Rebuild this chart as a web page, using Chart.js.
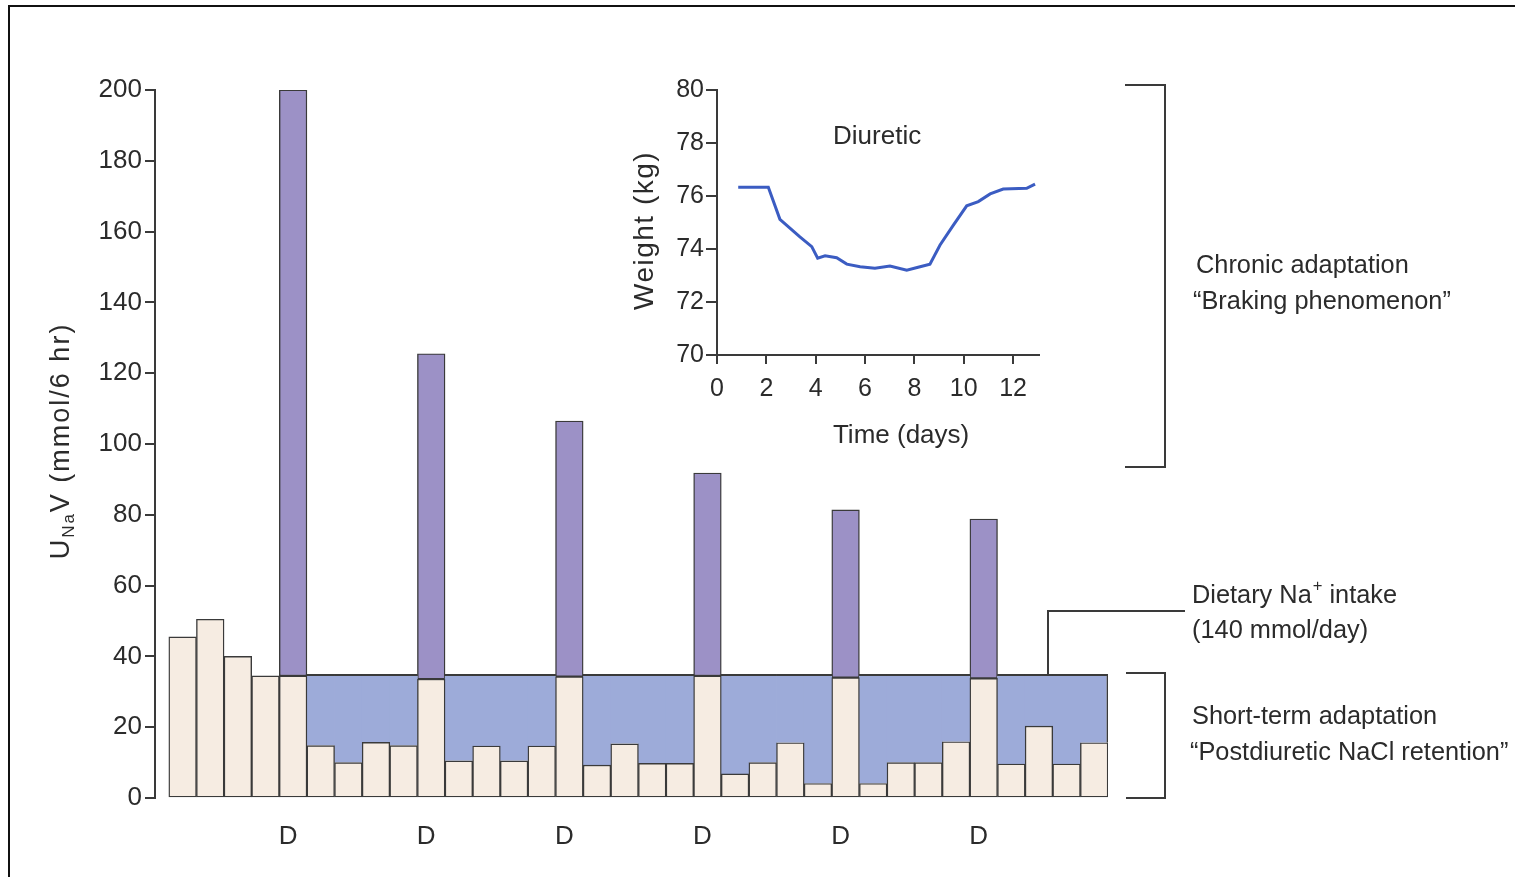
<!DOCTYPE html>
<html>
<head>
<meta charset="utf-8">
<script src="https://cdn.jsdelivr.net/npm/chart.js@4"></script>
<style>
  body { margin: 0; background: #fff; }
  .wrap { position: relative; width: 1515px; height: 877px; overflow: hidden; }
  .frame { position: absolute; left: 8px; top: 5px; width: 1600px; height: 1000px; border-left: 2px solid #111; border-top: 2px solid #111; }
  #main { position: absolute; left: 0; top: 0; }
  #inset { position: absolute; left: 600px; top: 60px; }
</style>
</head>
<body>
<div class="wrap">
  <div class="frame"></div>
  <canvas id="main" width="1515" height="877"></canvas>
  <canvas id="inset" width="450" height="420"></canvas>
</div>
<script>
// 6-hour collection periods
const periods = [1, 2, 3, 4, 5, 6, 7, 8, 9, 10, 11, 12, 13, 14, 15, 16, 17,
  18, 19, 20, 21, 22, 23, 24, 25, 26, 27, 28, 29, 30, 31, 32, 33, 34];
// urinary Na excretion below the intake line (mmol/6 hr)
const baseNa = [45.5, 50.5, 40, 34.5, 34.5, 14.8, 10, 15.7, 14.8, 33.6,
  10.5, 14.7, 10.5, 14.7, 34.3, 9.3, 15.3, 9.8, 9.8, 34.5,
  6.8, 10, 15.6, 4.1, 34, 4.1, 10, 10, 15.9, 33.8,
  9.6, 20.3, 9.6, 15.6];
// diuretic doses and peak excretion after each one
const doseDays = [5, 10, 15, 20, 25, 30];
const dosePeaks = [200, 125.5, 106.5, 91.8, 81.4, 78.8];
const intake = 35;
const yTicks = [0, 20, 40, 60, 80, 100, 120, 140, 160, 180, 200];

// inset: body weight
const weightDays = [0.86, 2.08, 2.55, 3.36, 3.84, 4.08, 4.38, 4.85, 5.26, 5.8, 6.4,
  7.01, 7.69, 8.23, 8.63, 9.04, 9.58, 10.12, 10.59, 11.07, 11.6, 12.55, 12.89];
const weightKg = [76.33, 76.33, 75.12, 74.46, 74.09, 73.65, 73.74, 73.67, 73.43, 73.33, 73.27,
  73.36, 73.2, 73.33, 73.43, 74.15, 74.9, 75.63, 75.79, 76.08, 76.26, 76.29, 76.45];
const weightTicks = [70, 72, 74, 76, 78, 80];
const dayTicks = [0, 2, 4, 6, 8, 10, 12];

const FONT = "'Liberation Sans', Arial, sans-serif";
const INK = '#2b2b2b';
const LINE = '#3a3a3a';

const blueData = baseNa.map((v, i) =>
  periods[i] > doseDays[0] && !doseDays.includes(periods[i]) ? intake - v : null);
const purpleData = periods.map((p, i) => {
  const k = doseDays.indexOf(p);
  return k >= 0 ? dosePeaks[k] - baseNa[i] : null;
});

function text(ctx, str, x, y, size, opts) {
  opts = opts || {};
  ctx.save();
  ctx.translate(x, y);
  if (opts.squeeze) ctx.scale(opts.squeeze, 1);
  ctx.font = size + 'px ' + FONT;
  ctx.fillStyle = INK;
  ctx.textBaseline = 'middle';
  ctx.textAlign = opts.align || 'left';
  if (opts.spacing) ctx.letterSpacing = opts.spacing;
  ctx.fillText(str, 0, 0);
  const w = ctx.measureText(str).width * (opts.squeeze || 1);
  ctx.restore();
  return w;
}

const annotations = {
  id: 'annotations',
  afterDraw(chart) {
    const ctx = chart.ctx;
    const y = chart.scales.y;
    const px = v => y.getPixelForValue(v);

    // y axis title with subscript
    ctx.save();
    ctx.translate(62, 441);
    ctx.rotate(-Math.PI / 2);
    ctx.fillStyle = INK;
    ctx.textBaseline = 'middle';
    ctx.letterSpacing = '2px';
    const parts = [['U', 27, 0], ['Na', 17, 7], ['V (mmol/6 hr)', 27, 0]];
    let total = 0;
    parts.forEach(p => { ctx.font = p[1] + 'px ' + FONT; total += ctx.measureText(p[0]).width; });
    let x = -total / 2;
    parts.forEach(p => {
      ctx.font = p[1] + 'px ' + FONT;
      ctx.fillText(p[0], x, p[2]);
      x += ctx.measureText(p[0]).width;
    });
    ctx.restore();

    // brackets and leader line
    ctx.save();
    ctx.strokeStyle = LINE;
    ctx.lineWidth = 2;
    ctx.beginPath();
    ctx.moveTo(1125, px(201.4)); ctx.lineTo(1165, px(201.4));
    ctx.lineTo(1165, px(93.5)); ctx.lineTo(1125, px(93.5));
    ctx.moveTo(1126, px(35.3)); ctx.lineTo(1165, px(35.3));
    ctx.lineTo(1165, px(0)); ctx.lineTo(1126, px(0));
    ctx.moveTo(1048, px(intake)); ctx.lineTo(1048, px(52.8)); ctx.lineTo(1185, px(52.8));
    ctx.stroke();
    ctx.restore();

    const sq = { squeeze: 0.975 };
    text(ctx, 'Chronic adaptation', 1196, 266, 26, sq);
    text(ctx, '\u201CBraking phenomenon\u201D', 1193, 302, 26, sq);
    const w = text(ctx, 'Dietary Na', 1192, 596, 26, sq);
    const pw = text(ctx, '+', 1192 + w + 1, 586, 17, sq);
    text(ctx, ' intake', 1192 + w + pw + 1, 596, 26, sq);
    text(ctx, '(140 mmol/day)', 1192, 631, 26, sq);
    text(ctx, 'Short-term adaptation', 1192, 717, 26, sq);
    text(ctx, '\u201CPostdiuretic NaCl retention\u201D', 1190, 753, 26, sq);
  }
};

new Chart(document.getElementById('main'), {
  type: 'bar',
  data: {
    labels: periods,
    datasets: [{
      data: baseNa,
      backgroundColor: '#F6ECE2',
      borderColor: LINE,
      borderWidth: 1.4,
      borderSkipped: false
    }, {
      data: blueData,
      backgroundColor: '#9DABD9',
      borderColor: LINE,
      barPercentage: 1.03,
      borderWidth: ctx => ({ top: 2, left: 0, bottom: 0, right: ctx.dataIndex === periods.length - 1 ? 2 : 0 }),
      borderSkipped: false
    }, {
      data: purpleData,
      backgroundColor: '#9C91C6',
      borderColor: LINE,
      borderWidth: 1.4,
      borderSkipped: false
    }]
  },
  options: {
    responsive: false,
    animation: false,
    barPercentage: 1,
    categoryPercentage: 1,
    layout: { padding: { top: 90, right: 407, bottom: 0, left: 0 } },
    plugins: { legend: { display: false }, tooltip: { enabled: false } },
    scales: {
      x: {
        type: 'linear',
        stacked: true,
        offset: false,
        min: 0,
        max: 34.5,
        grid: { display: false },
        border: { display: false },
        afterBuildTicks: s => { s.ticks = doseDays.map(v => ({ value: v })); },
        afterFit: s => { s.height = 79; },
        ticks: {
          callback: () => 'D',
          autoSkip: false,
          maxRotation: 0,
          padding: 15,
          labelOffset: -5,
          color: INK,
          font: { family: FONT, size: 26 }
        }
      },
      y: {
        stacked: true,
        min: 0,
        max: 200,
        afterBuildTicks: s => { s.ticks = yTicks.map(v => ({ value: v })); },
        afterFit: s => { s.width = 155; },
        grid: { drawOnChartArea: false, tickLength: 10, color: LINE, lineWidth: 2 },
        border: { color: LINE, width: 2 },
        ticks: { padding: 3, color: INK, font: { family: FONT, size: 26 } }
      }
    }
  },
  plugins: [annotations]
});

const insetText = {
  id: 'insetText',
  afterDraw(chart) {
    const ctx = chart.ctx;
    const x = chart.scales.x, y = chart.scales.y;
    text(ctx, 'Diuretic', x.getPixelForValue(6.49), y.getPixelForValue(78.23), 26, { align: 'center' });
    text(ctx, 'Time (days)', x.getPixelForValue(7.46), chart.chartArea.bottom + 81, 26, { align: 'center' });
    ctx.save();
    ctx.translate(45, y.getPixelForValue(74.7));
    ctx.rotate(-Math.PI / 2);
    text(ctx, 'Weight (kg)', 0, 0, 28, { align: 'center', spacing: '1.5px' });
    ctx.restore();
  }
};

new Chart(document.getElementById('inset'), {
  type: 'line',
  data: {
    datasets: [{
      data: weightDays.map((d, i) => ({ x: d, y: weightKg[i] })),
      borderColor: '#3B5CC2',
      borderWidth: 3,
      pointRadius: 0,
      tension: 0
    }]
  },
  options: {
    responsive: false,
    animation: false,
    layout: { padding: { top: 30, right: 11, bottom: 0, left: 0 } },
    plugins: { legend: { display: false }, tooltip: { enabled: false } },
    scales: {
      x: {
        type: 'linear',
        min: 0,
        max: 13.05,
        afterBuildTicks: s => { s.ticks = dayTicks.map(v => ({ value: v })); },
        afterFit: s => { s.height = 125; },
        grid: { drawOnChartArea: false, tickLength: 9, color: LINE, lineWidth: 2 },
        border: { color: LINE, width: 2 },
        ticks: { padding: 10, color: INK, font: { family: FONT, size: 25 } }
      },
      y: {
        min: 70,
        max: 80,
        afterBuildTicks: s => { s.ticks = weightTicks.map(v => ({ value: v })); },
        afterFit: s => { s.width = 117; },
        grid: { drawOnChartArea: false, tickLength: 11, color: LINE, lineWidth: 2 },
        border: { color: LINE, width: 2 },
        ticks: { padding: 2, color: INK, font: { family: FONT, size: 25 } }
      }
    }
  },
  plugins: [insetText]
});
</script>
</body>
</html>
